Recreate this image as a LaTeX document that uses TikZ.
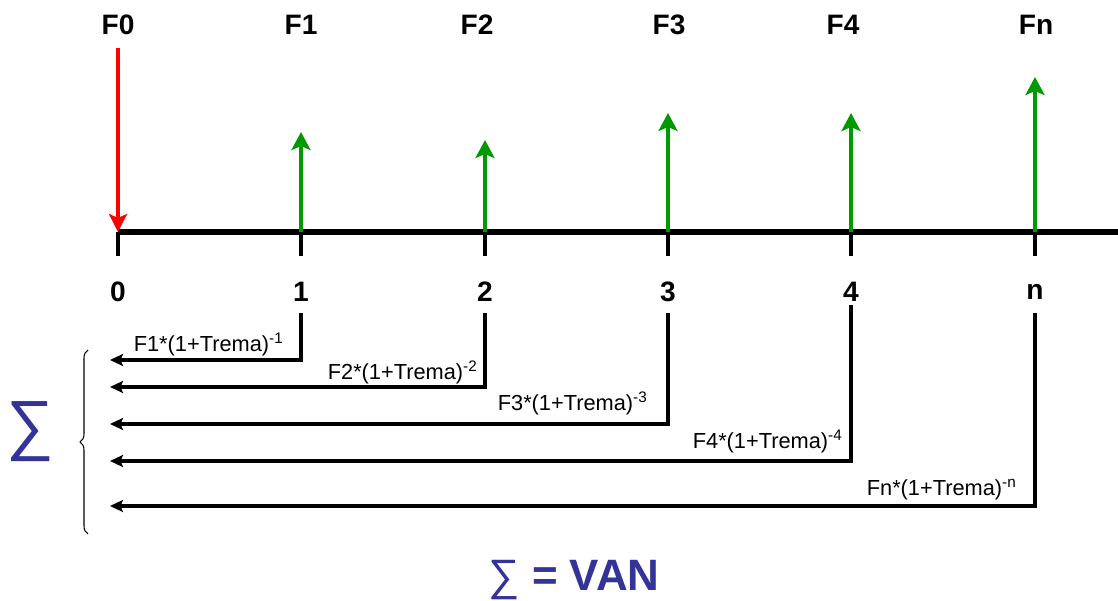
\documentclass[tikz,border=0pt]{standalone}
\usepackage{fontspec}
\setmainfont{Liberation Sans}
\usepackage{xcolor}
\usetikzlibrary{positioning,arrows.meta,decorations.pathreplacing}

\definecolor{vangreen}{RGB}{0,153,0}
\definecolor{vanblue}{RGB}{51,51,153}

\begin{document}
\begin{tikzpicture}[x=0.02cm,y=-0.02cm,
    flowlbl/.style={font=\fontsize{16}{18}\selectfont\bfseries},
    numlbl/.style={font=\fontsize{16}{18}\selectfont\bfseries},
    disclbl/.style={anchor=base east,inner sep=0pt,font=\fontsize{12.4}{14}\selectfont},
    inflow/.style={vangreen,line width=2.3pt,-{Stealth[length=0.36cm,width=0.38cm,inset=0.08cm]}},
    outflow/.style={red,line width=2.3pt,-{Stealth[length=0.36cm,width=0.36cm,inset=0.08cm]}},
    disc/.style={line width=2pt,-{Stealth[length=0.26cm,width=0.24cm,inset=0.05cm]}},
    tickmark/.style={line width=2pt}]
    \useasboundingbox (0,0) rectangle (1118,601);

    % Time line
    \coordinate (start) at (118,232);
    \coordinate (stop) at (1118,232);
    \draw[line width=3.6pt] (start) -- (stop);

    % Periods
    \foreach \x/\n in {118/0,301/1,485/2,668/3,851/4,1035/n} {
        \coordinate (p\n) at (\x,232);
        \draw[tickmark] (p\n) -- ++(0,24);
        \node[numlbl] (num\n) at (\x,292) {\n};
    }

    % Cash flows
    \node[flowlbl] (lf0) at (118,25) {F0};
    \node[flowlbl] (lf1) at (301,25) {F1};
    \node[flowlbl] (lf2) at (477,25) {F2};
    \node[flowlbl] (lf3) at (669,25) {F3};
    \node[flowlbl] (lf4) at (843,25) {F4};
    \node[flowlbl] (lfn) at (1036,25) {Fn};

    \coordinate (f0) at (118,48);
    \coordinate (f1) at (301,132);
    \coordinate (f2) at (485,140);
    \coordinate (f3) at (668,113);
    \coordinate (f4) at (851,113);
    \coordinate (fn) at (1035,77);

    \draw[outflow] (f0) -- (p0);
    \draw[inflow] (p1) -- (f1);
    \draw[inflow] (p2) -- (f2);
    \draw[inflow] (p3) -- (f3);
    \draw[inflow] (p4) -- (f4);
    \draw[inflow] (pn) -- (fn);

    % Discounting to period 0
    \coordinate (s1) at (301,313);
    \coordinate (s2) at (485,313);
    \coordinate (s3) at (668,313);
    \coordinate (s4) at (851,305);
    \coordinate (sn) at (1035,313);
    \coordinate (e1) at (110,360);
    \coordinate (e2) at (110,387);
    \coordinate (e3) at (110,424);
    \coordinate (e4) at (110,461);
    \coordinate (en) at (110,506);

    \draw[disc] (s1) |- (e1);
    \draw[disc] (s2) |- (e2);
    \draw[disc] (s3) |- (e3);
    \draw[disc] (s4) |- (e4);
    \draw[disc] (sn) |- (en);

    \node[disclbl] (d1) at (284,351) {F1*(1+Trema)\textsuperscript{-1}};
    \node[disclbl] (d2) at (478,379) {F2*(1+Trema)\textsuperscript{-2}};
    \node[disclbl] (d3) at (648,410) {F3*(1+Trema)\textsuperscript{-3}};
    \node[disclbl] (d4) at (843,448) {F4*(1+Trema)\textsuperscript{-4}};
    \node[disclbl] (dn) at (1017,495) {Fn*(1+Trema)\textsuperscript{-n}};

    % Sum
    \coordinate (bb) at (88,534);
    \coordinate (bt) at (88,350);
    \draw[line width=0.6pt,decorate,decoration={brace,amplitude=0.16cm}] (bb) -- (bt);
    \node[vanblue,font=\fontsize{38}{40}\selectfont] (sigma) at (30,432) {∑};

    % Result
    \node[vanblue,font=\fontsize{25}{30}\selectfont] (van) at (574,580) {∑ {\bfseries = VAN}};
\end{tikzpicture}
\end{document}
